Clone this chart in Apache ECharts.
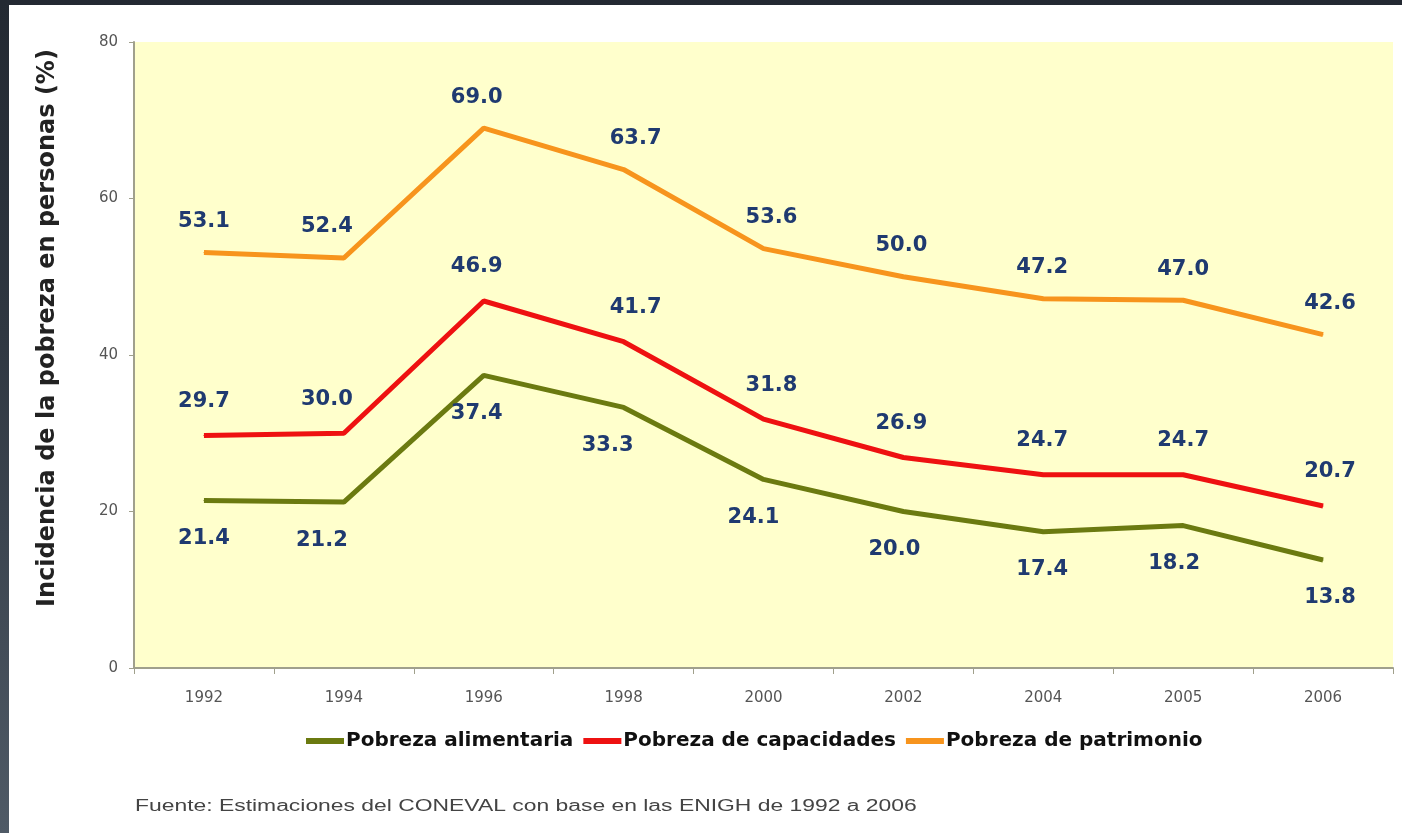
<!DOCTYPE html>
<html>
<head>
<meta charset="utf-8">
<title>Pobreza</title>
<script src="https://cdn.jsdelivr.net/npm/echarts@6/dist/echarts.min.js"></script>
<style>
html, body {
    margin: 0;
    padding: 0;
    width: 1402px;
    height: 833px;
    overflow: hidden;
    background: linear-gradient(to bottom, #232932 0%, #2f3741 40%, #4f5a66 100%);
}
#main {
    position: absolute;
    left: 9px;
    top: 5px;
    width: 1393px;
    height: 828px;
    background: #fff;
}
</style>
</head>
<body>
<div id="main"></div>
<script>
// años
var years = ['1992', '1994', '1996', '1998', '2000', '2002', '2004', '2005', '2006'];
// series
var alimentaria = [21.4, 21.2, 37.4, 33.3, 24.1, 20.0, 17.4, 18.2, 13.8];
var capacidades = [29.7, 30.0, 46.9, 41.7, 31.8, 26.9, 24.7, 24.7, 20.7];
var patrimonio = [53.1, 52.4, 69.0, 63.7, 53.6, 50.0, 47.2, 47.0, 42.6];

// ajuste horizontal de las etiquetas (px), como en el original
var shiftTop = [0, -17, -7, 12, 8, -2, -1, 0, 7];
var shiftBottom = [0, -22, -7, -16, -10, -9, -1, -9, 7];

var labelColor = '#1f3a70';

function makeSeries(name, values, color, pos, shift, dist) {
    return {
        name: name,
        type: 'line',
        symbol: 'circle',
        symbolSize: 1,
        lineStyle: { color: color, width: 5 },
        itemStyle: { color: color },
        data: values.map(function (v, i) {
            return { value: v, label: { offset: [shift[i], 0] } };
        }),
        label: {
            show: true,
            position: pos,
            distance: dist,
            color: labelColor,
            fontFamily: 'DejaVu Sans',
            fontWeight: 'bold',
            fontSize: 21,
            formatter: function (p) { return p.value.toFixed(1); }
        }
    };
}

var chart = echarts.init(document.getElementById('main'));
chart.setOption({
    animation: false,
    grid: { left: 125, right: 9, top: 37, bottom: 165, backgroundColor: '#ffffcc', show: true, borderWidth: 0 },
    legend: {
        bottom: 77,
        left: 292,
        itemWidth: 38,
        itemHeight: 6,
        itemGap: 10,
        icon: 'rect',
        textStyle: { fontFamily: 'DejaVu Sans', fontWeight: 'bold', fontSize: 20, color: '#111', padding: [0, 0, 0, -3] },
        data: ['Pobreza alimentaria', 'Pobreza de capacidades', 'Pobreza de patrimonio']
    },
    xAxis: {
        type: 'category',
        data: years,
        boundaryGap: true,
        axisLine: { lineStyle: { color: '#a0a08c', width: 2 } },
        axisTick: { show: true, length: 6, lineStyle: { color: '#a0a08c' } },
        axisLabel: { color: '#555', fontFamily: 'DejaVu Sans', fontSize: 15, margin: 23 }
    },
    yAxis: {
        type: 'value',
        min: 0,
        max: 80,
        interval: 20,
        name: 'Incidencia de la pobreza en personas (%)',
        nameLocation: 'middle',
        nameGap: 74,
        nameTextStyle: { fontFamily: 'DejaVu Sans', fontWeight: 'bold', fontSize: 24, color: '#222', padding: [0, 0, 0, 54] },
        axisLine: { show: true, lineStyle: { color: '#a0a08c', width: 2 } },
        axisTick: { show: true, length: 5, lineStyle: { color: '#a0a08c' } },
        splitLine: { show: false },
        axisLabel: { color: '#555', fontFamily: 'DejaVu Sans', fontSize: 15, margin: 16 }
    },
    series: [
        makeSeries('Pobreza alimentaria', alimentaria, '#6b7a10', 'bottom', shiftBottom, 27),
        makeSeries('Pobreza de capacidades', capacidades, '#ee1111', 'top', shiftTop, 23),
        makeSeries('Pobreza de patrimonio', patrimonio, '#f7941d', 'top', shiftTop, 20)
    ],
    graphic: [{
        type: 'text',
        left: 126,
        top: 794,
        scaleX: 1.43,
        style: {
            text: 'Fuente: Estimaciones del CONEVAL con base en las ENIGH de 1992 a 2006',
            fontFamily: 'Liberation Sans',
            fontSize: 16,
            fill: '#444'
        }
    }]
});
</script>
</body>
</html>
